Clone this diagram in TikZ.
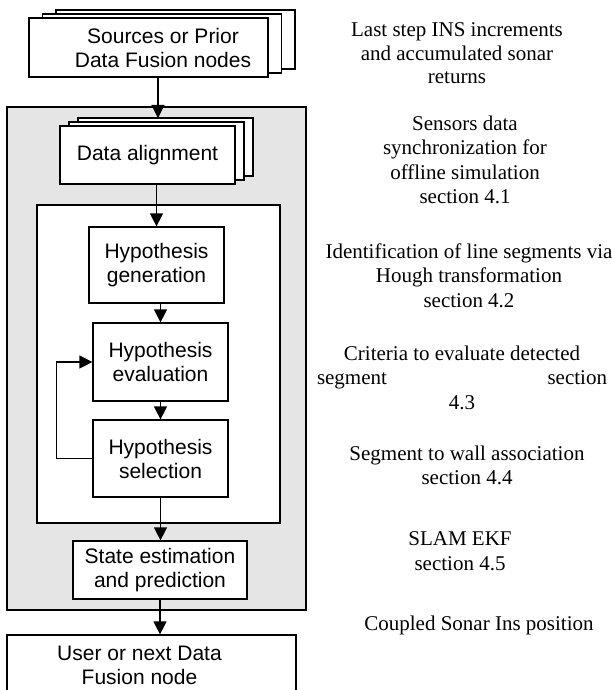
\documentclass[tikz,border=0pt]{standalone}
\usepackage{fontspec}
\setmainfont{Liberation Serif}
\newfontfamily\arialfont{Liberation Sans}
\usetikzlibrary{arrows.meta,shadows}

\begin{document}
\begin{tikzpicture}[x=1pt,y=-1pt,line width=1.2pt,>={Triangle[length=13pt,width=13pt]}]
        \useasboundingbox (0,0) rectangle (611,690);
        \clip (0,0) rectangle (611,690);
        % stage frames
        \node[draw, fill=black!10, minimum width=299pt, minimum height=503pt] (fusion) at (156.5, 358.5) {};
        \node[draw, fill=white,    minimum width=243pt, minimum height=318pt] (inner)  at (158.5, 364) {};
        \tikzstyle{every node}=[draw, fill=white, align=center, inner sep=0pt,
                                font=\arialfont\fontsize{21}{24}\selectfont]
        \node[minimum width=239pt, minimum height=59pt,
              double copy shadow={shadow xshift=13.5pt, shadow yshift=4pt},
              label={[draw=none, fill=none, xshift=14.5pt, align=center,
                      font=\arialfont\fontsize{21}{24}\selectfont]center:Sources or Prior\\Data Fusion nodes}]
              (src)   at (148.5,  47.5) {};
        \node[minimum width=175pt, minimum height=58pt,
              double copy shadow={shadow xshift=9pt, shadow yshift=4pt}]
              (align) at (147.5, 155)   {Data alignment};
        \node[minimum width=135pt, minimum height=76pt] (gen)   at (156.5, 265)   {Hypothesis\\generation};
        \node[minimum width=135pt, minimum height=78pt] (eval)  at (160.5, 362)   {Hypothesis\\evaluation};
        \node[minimum width=135pt, minimum height=77pt] (sel)   at (160.5, 458.5) {Hypothesis\\selection};
        \node[minimum width=174pt, minimum height=58pt] (state) at (160,   570)   {State estimation\\and prediction};
        \node[minimum width=289pt, minimum height=65pt,
              label={[draw=none, fill=none, xshift=-12pt, yshift=2pt, align=center,
                      font=\arialfont\fontsize{21}{24}\selectfont]center:User or next Data\\Fusion node}]
              (user)  at (151.5, 667.5) {};
        \coordinate (aligntop) at (158, 118);
        % flow
        \draw[->] (aligntop |- src.south) -- (aligntop);
        \draw[->] (gen.north |- align.south) -- (gen.north);
        \draw[->] (eval.north |- gen.south) -- (eval.north);
        \draw[->] (eval) -- (sel);
        \draw[->] (sel.south) -- (sel.south |- state.north);
        \draw[->] (state.south) -- (state.south |- user.north);
        \draw[->] (sel.west) -- ++(-36, 0) |- (eval.west);
        % notes on the right
        \tikzstyle{every node}=[draw=none, fill=none, align=center, inner sep=0pt, anchor=north,
                                font=\fontsize{21}{24.5}\selectfont]
        \node[font=\fontsize{21}{23.5}\selectfont] (n-ins) at (457, 22)
              {Last step INS increments\\and accumulated sonar\\returns};
        \node (n-sync)   at (465, 115) {Sensors data\\synchronization for\\offline simulation\\section 4.1};
        \node (n-hough)  at (469, 243) {Identification of line segments via\\Hough transformation\\section 4.2};
        \node (n-crit)   at (462, 345) {Criteria to evaluate detected\\\makebox[290pt]{segment\hfill section}\\4.3};
        \node (n-wall)   at (467, 445) {Segment to wall association\\section 4.4};
        \node (n-slam)   at (460, 531) {SLAM EKF\\section 4.5};
        \node (n-out)    at (479, 615) {Coupled Sonar Ins position};
    \end{tikzpicture}
\end{document}
